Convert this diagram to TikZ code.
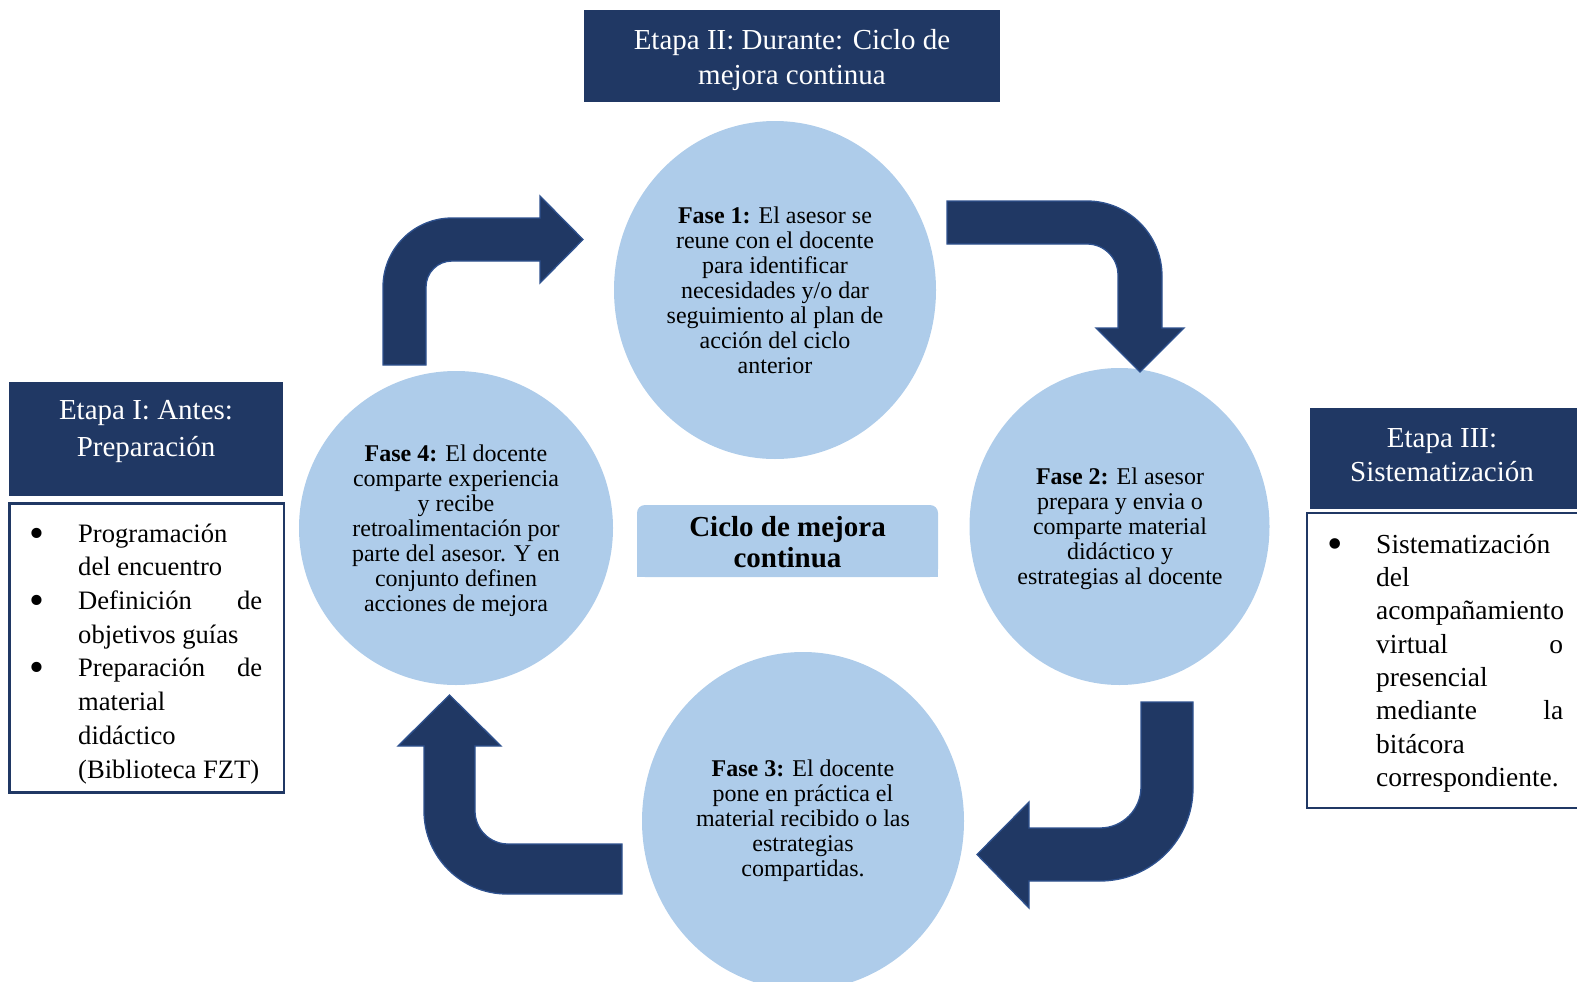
\documentclass[tikz,border=0pt]{standalone}
\usepackage{fontspec}
\setmainfont{Liberation Serif}
\usetikzlibrary{shapes.geometric}

\definecolor{navy}{RGB}{32,56,100}
\definecolor{navyedge}{RGB}{47,82,143}
\definecolor{phasefill}{RGB}{174,204,234}

% bullet sitting at the left edge of a box of the given width
\newcommand\bul[1]{\makebox[#1][l]{\hspace*{1.5pt}\makebox[0pt]{\raisebox{-5pt}{\scalebox{1.6}{\textbullet}}}}}

\begin{document}
\begin{tikzpicture}[x=1pt,y=-1pt,
  phase/.style={ellipse, fill=phasefill, inner sep=0pt, outer sep=0pt},
  phasetext/.style={align=center, inner sep=0pt, font=\fontsize{24}{25}\selectfont},
  headbox/.style={rectangle, fill=navy, inner sep=0pt, outer sep=0pt},
  headtext/.style={align=center, inner sep=0pt, text=white},
  listbox/.style={rectangle, draw=navy, line width=2.4pt, fill=white, inner sep=0pt},
  listtext/.style={align=left, inner sep=0pt, anchor=north west},
  bentarrow/.style={fill=navy, draw=navyedge, line width=1.3pt, line join=miter}
]
\useasboundingbox (0,0) rectangle (1577,982);

% ---- phase circles ----
\node[phase, minimum width=322pt, minimum height=338pt] (c1) at (775,290) {};
\node[phase, minimum width=300pt, minimum height=317pt] (c2) at (1119.5,526.5) {};
\node[phase, minimum width=322pt, minimum height=338pt] (c3) at (803,821) {};
\node[phase, minimum width=314pt, minimum height=314pt] (c4) at (456,528) {};

\node[phasetext] (t1) at (c1.center) {\textbf{Fase 1:} El asesor se\\reune con el docente\\para identificar\\necesidades y/o dar\\seguimiento al plan de\\acción del ciclo\\anterior};
\node[phasetext] (t2) at (1120,529) {\textbf{Fase 2:} El asesor\\prepara y envia o\\comparte material\\didáctico y\\estrategias al docente};
\node[phasetext] (t3) at (803,821) {\textbf{Fase 3:} El docente\\pone en práctica el\\material recibido o las\\estrategias\\compartidas.};
\node[phasetext] (t4) at (456,531) {\textbf{Fase 4:} El docente\\comparte experiencia\\y recibe\\retroalimentación por\\parte del asesor. Y en\\conjunto definen\\acciones de mejora};

% ---- bent arrows between the phases ----
% phase 4 -> phase 1
\path[bentarrow] (383,365) -- (383,287) .. controls (383,248.9) and (413.9,218) .. (452,218)
  -- (540,218) -- (540,196) -- (583,239.5) -- (540,283) -- (540,261) -- (452,261)
  .. controls (437.6,261) and (426,272.6) .. (426,287) -- (426,365) -- cycle;
% phase 1 -> phase 2
\path[bentarrow] (947,201) -- (1087,201) .. controls (1128.4,201) and (1162,234.6) .. (1162,276)
  -- (1162,328) -- (1184,328) -- (1140,372) -- (1096,328) -- (1118,328) -- (1118,275)
  .. controls (1118,257.9) and (1104.1,244) .. (1087,244) -- (947,244) -- cycle;
% phase 2 -> phase 3
\path[bentarrow] (1141,702) -- (1193,702) -- (1193,788) .. controls (1193,839.4) and (1151.4,881) .. (1100,881)
  -- (1029,881) -- (1029,908) -- (977,854.5) -- (1029,802) -- (1029,828) -- (1100,828)
  .. controls (1122.6,828) and (1141,809.6) .. (1141,787) -- cycle;
% phase 3 -> phase 4
\path[bentarrow] (622,844) -- (508,844) .. controls (489.8,844) and (475,829.2) .. (475,811)
  -- (475,746) -- (501,746) -- (449.5,695) -- (398,746) -- (424,746) -- (424,811)
  .. controls (424,856.8) and (461.2,894) .. (507,894) -- (622,894) -- cycle;

% ---- centre label ----
\node[fill=phasefill, rounded corners=8pt, minimum width=301pt, minimum height=72pt, inner sep=0pt] (cyc) at (787.5,541) {};
\fill[phasefill] (637,541) rectangle (938,577);
\node[align=center, inner sep=0pt, font=\bfseries\fontsize{29}{31}\selectfont] (cyct) at (787.5,542.5) {Ciclo de mejora\\continua};

% ---- stage II header ----
\node[headbox, minimum width=416pt, minimum height=92pt] (h2) at (792,56) {};
\node[headtext, font=\fontsize{29}{35}\selectfont] (h2t) at (792,60.5) {Etapa II: Durante: Ciclo de\\mejora continua};

% ---- stage I ----
\node[headbox, minimum width=274pt, minimum height=114pt] (h1) at (146,439) {};
\node[headtext, font=\fontsize{29}{37}\selectfont] (h1t) at (146,432) {Etapa I: Antes:\\Preparación};
\node[listbox, minimum width=274.5pt, minimum height=289pt] (l1) at (146.75,648) {};
\node[listtext, font=\fontsize{26.6}{33.7}\selectfont] (l1t) at (35,518.4) {%
  \strut\bul{43pt}Programación\\
  \hspace*{43pt}del encuentro\\
  \bul{43pt}\makebox[184pt][l]{Definición\hfill de}\\
  \hspace*{43pt}objetivos guías\\
  \bul{43pt}\makebox[184pt][l]{Preparación\hfill de}\\
  \hspace*{43pt}material\\
  \hspace*{43pt}didáctico\\
  \hspace*{43pt}(Biblioteca FZT)};

% ---- stage III ----
\node[headbox, minimum width=270pt, minimum height=101pt] (h3) at (1445,458.5) {};
\node[headtext, font=\fontsize{29}{34}\selectfont] (h3t) at (1442,455) {Etapa III:\\Sistematización};
\node[listbox, minimum width=280pt, minimum height=295pt] (l3) at (1447,660.5) {};
\node[listtext, font=\fontsize{27.5}{33.3}\selectfont] (l3t) at (1333,529.7) {%
  \strut\bul{43pt}Sistematización\\
  \hspace*{43pt}del\\
  \hspace*{43pt}acompañamiento\\
  \hspace*{43pt}\makebox[187pt][l]{virtual\hfill o}\\
  \hspace*{43pt}presencial\\
  \hspace*{43pt}\makebox[187pt][l]{mediante\hfill la}\\
  \hspace*{43pt}bitácora\\
  \hspace*{43pt}correspondiente.};
\end{tikzpicture}
\end{document}
